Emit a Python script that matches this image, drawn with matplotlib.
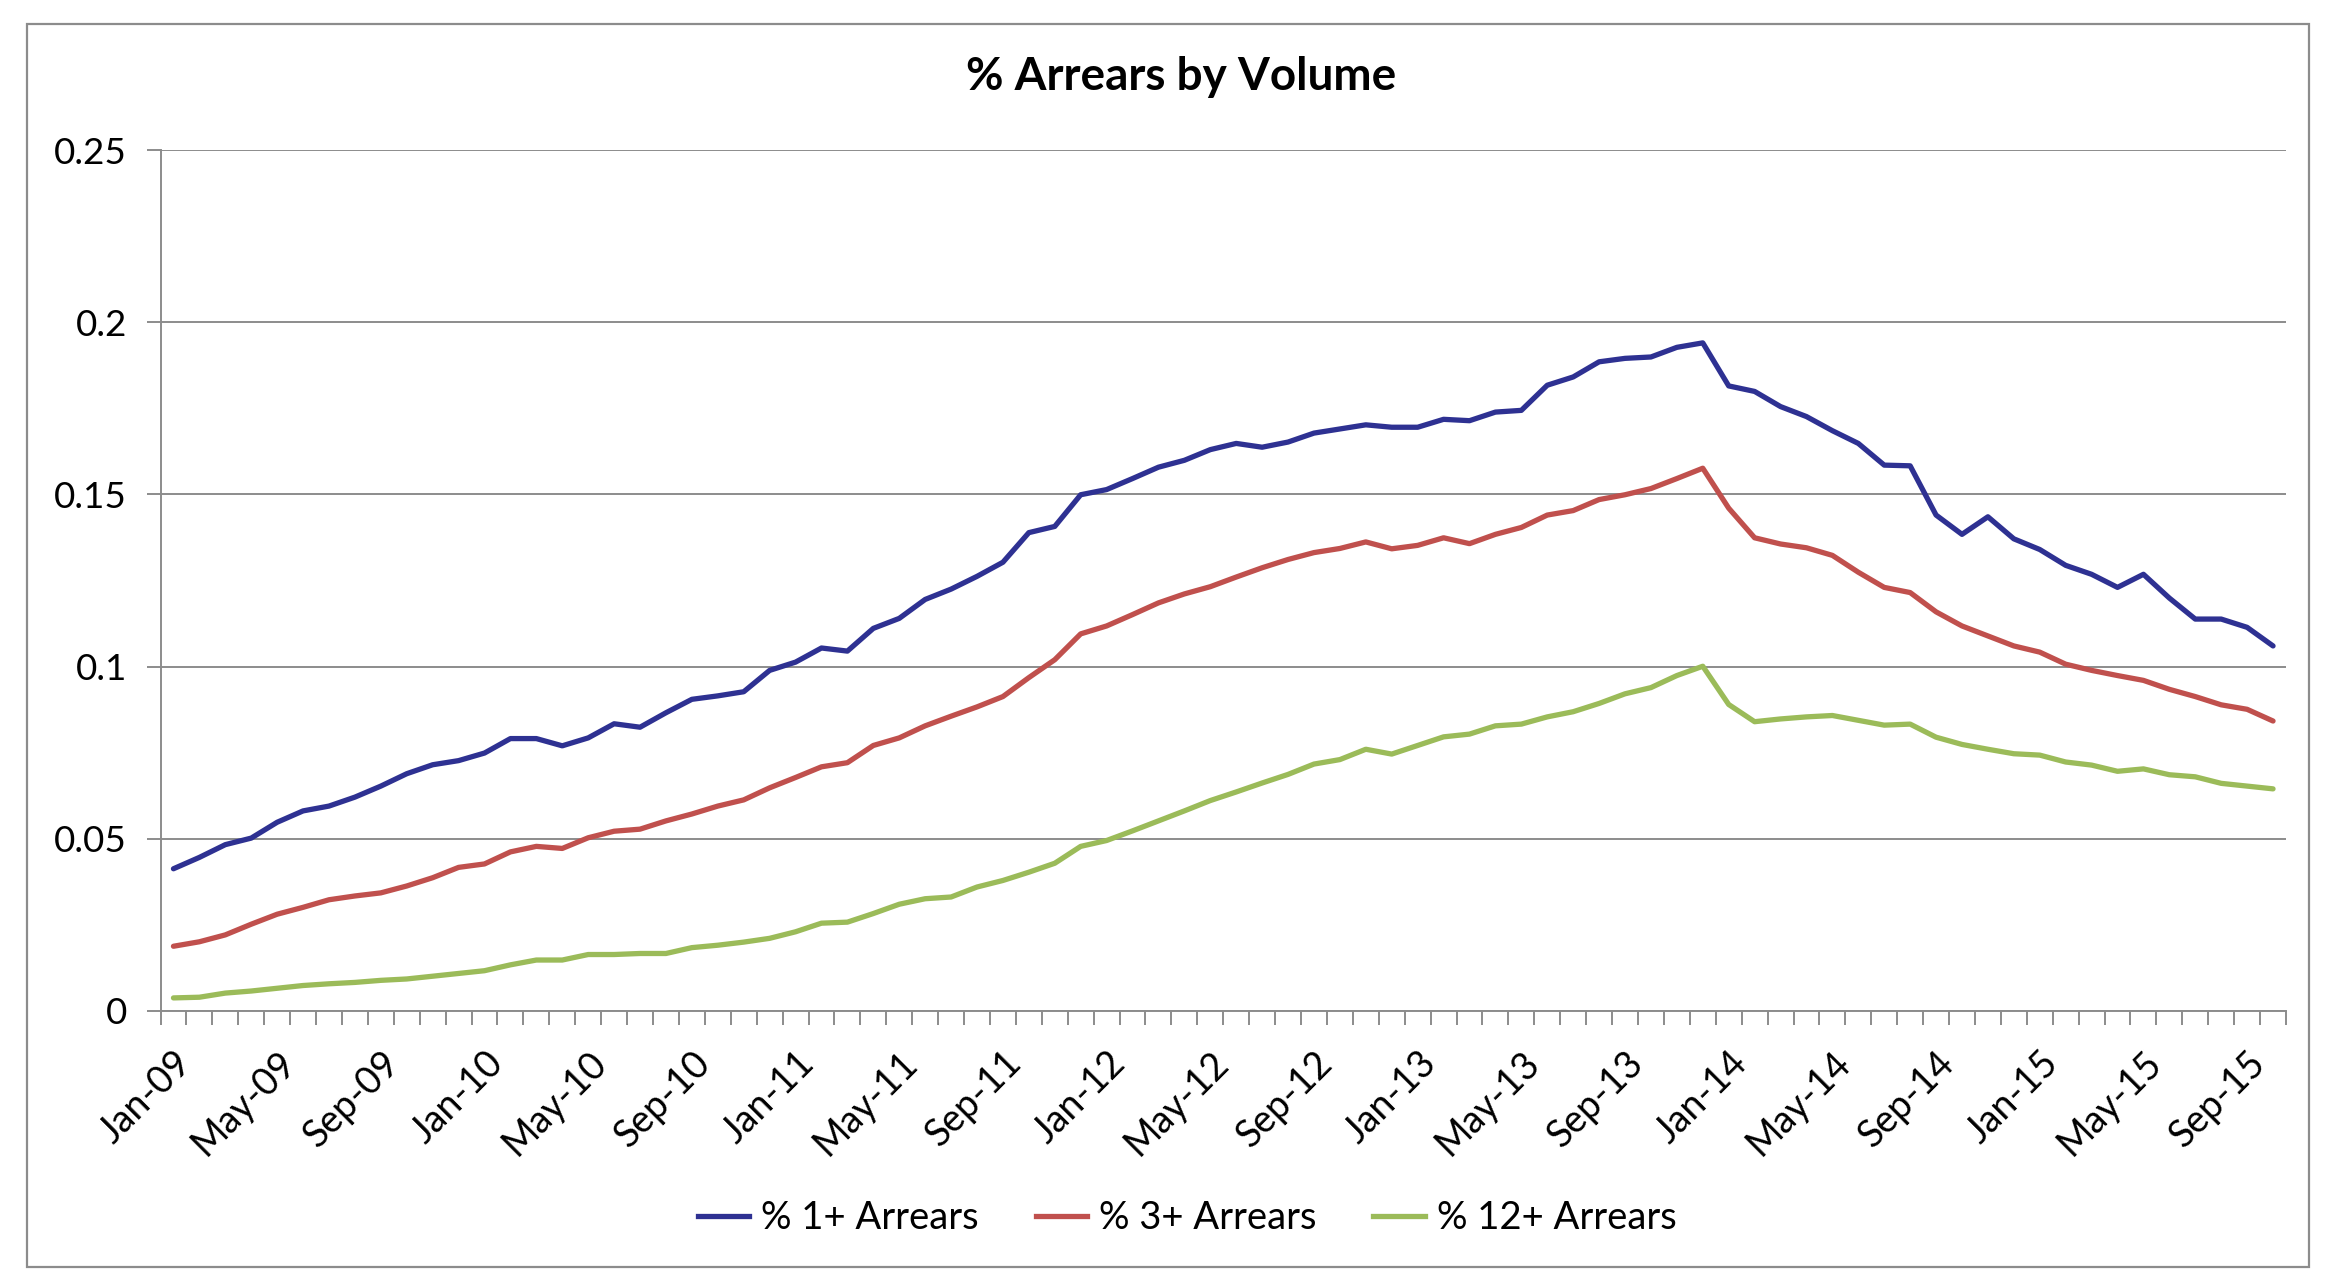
import matplotlib
matplotlib.use("Agg")
import matplotlib.pyplot as plt
from matplotlib.patches import Rectangle
from matplotlib.lines import Line2D
import numpy as np
import pandas as pd

# ---------------- data ----------------
months = pd.date_range("2009-01-01", periods=82, freq="MS").strftime("%b-%y").tolist()

arrears_1 = [
    0.0413, 0.0446, 0.0483, 0.0502, 0.0548, 0.0581, 0.0595, 0.0621, 0.0653, 0.0689,
    0.0715, 0.0727, 0.0749, 0.0791, 0.0791, 0.0770, 0.0793, 0.0834, 0.0824, 0.0866,
    0.0905, 0.0915, 0.0927, 0.0989, 0.1013, 0.1054, 0.1045, 0.1111, 0.1140, 0.1195,
    0.1225, 0.1262, 0.1303, 0.1389, 0.1407, 0.1499, 0.1514, 0.1546, 0.1579, 0.1599,
    0.1630, 0.1648, 0.1637, 0.1652, 0.1678, 0.1690, 0.1702, 0.1695, 0.1695, 0.1718,
    0.1714, 0.1739, 0.1744, 0.1817, 0.1841, 0.1885, 0.1895, 0.1899, 0.1927, 0.1940,
    0.1815, 0.1799, 0.1755, 0.1726, 0.1685, 0.1648, 0.1585, 0.1583, 0.1440, 0.1384,
    0.1435, 0.1371, 0.1340, 0.1294, 0.1268, 0.1230, 0.1268, 0.1199, 0.1138, 0.1138,
    0.1114, 0.1060,
]
arrears_3 = [
    0.0188, 0.0201, 0.0221, 0.0252, 0.0281, 0.0301, 0.0323, 0.0334, 0.0343, 0.0363,
    0.0387, 0.0417, 0.0427, 0.0462, 0.0478, 0.0472, 0.0503, 0.0522, 0.0528, 0.0552,
    0.0572, 0.0595, 0.0613, 0.0648, 0.0678, 0.0709, 0.0721, 0.0771, 0.0793, 0.0828,
    0.0856, 0.0883, 0.0913, 0.0968, 0.1020, 0.1095, 0.1118, 0.1151, 0.1185, 0.1211,
    0.1232, 0.1260, 0.1287, 0.1311, 0.1331, 0.1343, 0.1362, 0.1342, 0.1352, 0.1374,
    0.1357, 0.1384, 0.1404, 0.1440, 0.1453, 0.1485, 0.1499, 0.1517, 0.1546, 0.1576,
    0.1460, 0.1374, 0.1356, 0.1345, 0.1323, 0.1274, 0.1230, 0.1215, 0.1159, 0.1118,
    0.1089, 0.1060, 0.1042, 0.1007, 0.0989, 0.0974, 0.0960, 0.0934, 0.0913, 0.0889,
    0.0876, 0.0842,
]
arrears_12 = [
    0.0038, 0.0040, 0.0052, 0.0058, 0.0066, 0.0074, 0.0079, 0.0083, 0.0089, 0.0093,
    0.0101, 0.0109, 0.0117, 0.0134, 0.0148, 0.0148, 0.0164, 0.0164, 0.0167, 0.0167,
    0.0184, 0.0191, 0.0200, 0.0211, 0.0230, 0.0255, 0.0258, 0.0283, 0.0310, 0.0326,
    0.0331, 0.0360, 0.0379, 0.0403, 0.0429, 0.0478, 0.0495, 0.0523, 0.0552, 0.0581,
    0.0611, 0.0636, 0.0662, 0.0687, 0.0717, 0.0730, 0.0760, 0.0746, 0.0771, 0.0796,
    0.0804, 0.0828, 0.0833, 0.0854, 0.0869, 0.0893, 0.0921, 0.0939, 0.0974, 0.1001,
    0.0890, 0.0840, 0.0848, 0.0854, 0.0858, 0.0844, 0.0830, 0.0833, 0.0795, 0.0774,
    0.0760, 0.0747, 0.0743, 0.0723, 0.0714, 0.0696, 0.0703, 0.0686, 0.0680, 0.0661,
    0.0653, 0.0645,
]
series_names = ["% 1+ Arrears", "% 3+ Arrears", "% 12+ Arrears"]
series_colors = ["#2E3192", "#C0504D", "#9BBB59"]
y_ticks = [0, 0.05, 0.1, 0.15, 0.2, 0.25]
y_tick_labels = ["0", "0.05", "0.1", "0.15", "0.2", "0.25"]
title = "% Arrears by Volume"

# ---------------- figure ----------------
plt.rcParams["font.family"] = ["Lato", "DejaVu Sans"]
W, H, DPI = 2331, 1275, 100
fig = plt.figure(figsize=(W / DPI, H / DPI), dpi=DPI)
fig.patch.set_facecolor("white")

# outer chart frame
fig.add_artist(Rectangle((27 / W, 1 - 1267 / H), (2309 - 27) / W, (1267 - 24) / H,
                         transform=fig.transFigure, fill=False,
                         edgecolor="#8C8C8C", linewidth=1.6))

left, right, top, bottom = 160.5, 2286, 150, 1011
ax = fig.add_axes([left / W, 1 - bottom / H, (right - left) / W, (bottom - top) / H])

x = np.arange(len(months))
all_series = [arrears_1, arrears_3, arrears_12]
for vals, name, col in zip(all_series, series_names, series_colors):
    ax.plot(x, vals, color=col, linewidth=3.8, label=name, solid_joinstyle="round",
            solid_capstyle="round", zorder=3)

ax.set_xlim(-0.5, len(months) - 0.5)
ax.set_ylim(0, 0.25)

ax.set_yticks(y_ticks)
ax.set_yticklabels(y_tick_labels)
ax.yaxis.grid(True, color="#8C8C8C", linewidth=1.4, zorder=0)
ax.set_axisbelow(True)

label_idx = list(range(0, len(months), 4))
ax.set_xticks(label_idx)
ax.set_xticklabels([months[i] for i in label_idx], rotation=45, ha="right",
                   va="top", rotation_mode="anchor")
ax.set_xticks(np.arange(-0.5, len(months), 1.0), minor=True)
ax.tick_params(axis="x", which="major", length=0, pad=24, labelsize=27, colors="black")
ax.tick_params(axis="x", which="minor", length=10, width=1.4, color="#8C8C8C",
               direction="out")
ax.tick_params(axis="y", which="major", length=10, width=1.4, color="#8C8C8C",
               labelsize=26.5, pad=14, labelcolor="black")

for s in ["top", "right"]:
    ax.spines[s].set_visible(False)
for s in ["left", "bottom"]:
    ax.spines[s].set_color("#8C8C8C")
    ax.spines[s].set_linewidth(1.4)

fig.text(1181 / W, 1 - 77 / H, title, ha="center", va="center",
         fontsize=33, fontweight="bold", color="black")

handles = [Line2D([0], [0], color=c, linewidth=3.8) for c in series_colors]
fig.legend(handles, series_names, loc="center", bbox_to_anchor=(1187 / W, 1 - 1218 / H),
           ncol=3, frameon=False, fontsize=27.5, handlelength=1.35, handletextpad=0.3,
           columnspacing=1.5)

fig.savefig("out.png", dpi=DPI, facecolor="white")
